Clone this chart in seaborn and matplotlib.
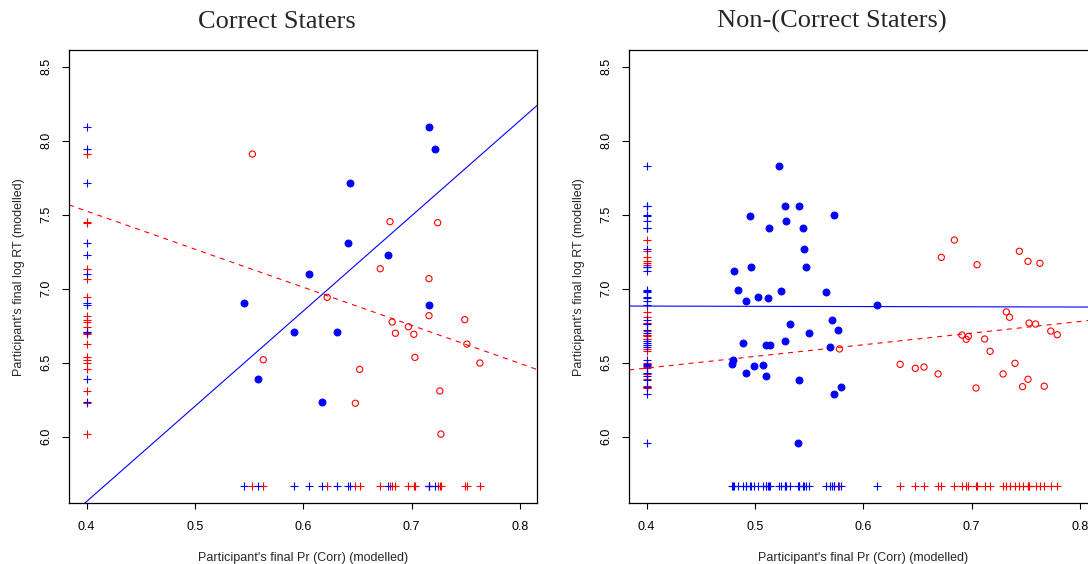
import matplotlib
matplotlib.use("Agg")
import matplotlib.pyplot as plt
import numpy as np
import pandas as pd
import seaborn as sns

# ── DATA ────────────────────────────────────────────────────────────────────
# Left panel: Correct Staters
cs_blue_x = [0.716, 0.722, 0.643, 0.641, 0.678, 0.605, 0.545, 0.716, 0.591, 0.631, 0.558, 0.617]
cs_blue_y = [8.093, 7.942, 7.714, 7.307, 7.230, 7.099, 6.901, 6.888, 6.709, 6.709, 6.392, 6.234]
cs_red_x = [0.553, 0.680, 0.724, 0.671, 0.716, 0.622, 0.716, 0.749, 0.682, 0.697,
            0.685, 0.702, 0.751, 0.763, 0.703, 0.563, 0.652, 0.726, 0.648, 0.727]
cs_red_y = [7.910, 7.453, 7.446, 7.135, 7.068, 6.942, 6.818, 6.791, 6.775, 6.743,
            6.699, 6.692, 6.626, 6.498, 6.536, 6.520, 6.455, 6.309, 6.226, 6.018]
cs_blue_line = (2.988, 6.436)    # intercept, slope
cs_red_line = (8.554, -2.574)

# Right panel: Non-(Correct Staters)
nc_blue_x = [0.522, 0.528, 0.541, 0.495, 0.573, 0.529, 0.513, 0.544, 0.545, 0.481,
             0.496, 0.547, 0.484, 0.524, 0.566, 0.492, 0.503, 0.512, 0.613, 0.571,
             0.532, 0.577, 0.550, 0.489, 0.528, 0.510, 0.514, 0.569, 0.480, 0.479,
             0.507, 0.499, 0.492, 0.510, 0.541, 0.579, 0.573, 0.540]
nc_blue_y = [7.827, 7.561, 7.561, 7.491, 7.498, 7.459, 7.408, 7.412, 7.270, 7.122,
             7.147, 7.145, 6.993, 6.986, 6.976, 6.919, 6.944, 6.939, 6.888, 6.791,
             6.759, 6.719, 6.703, 6.631, 6.647, 6.620, 6.622, 6.606, 6.516, 6.493,
             6.486, 6.478, 6.432, 6.412, 6.383, 6.336, 6.286, 5.959]
nc_red_x = [0.684, 0.744, 0.672, 0.752, 0.763, 0.705, 0.732, 0.735, 0.753, 0.759,
            0.773, 0.779, 0.691, 0.697, 0.695, 0.712, 0.578, 0.717, 0.634, 0.648,
            0.656, 0.669, 0.740, 0.729, 0.704, 0.752, 0.747, 0.767]
nc_red_y = [7.329, 7.253, 7.212, 7.185, 7.172, 7.162, 6.843, 6.807, 6.768, 6.761,
            6.714, 6.689, 6.687, 6.678, 6.658, 6.660, 6.593, 6.577, 6.489, 6.462,
            6.471, 6.424, 6.496, 6.424, 6.329, 6.388, 6.338, 6.341]
nc_blue_line = (6.889, -0.016)
nc_red_line = (6.149, 0.787)

RUG_X = 0.4      # marginal "+" marks on the left
RUG_Y = 5.667    # marginal "+" marks at the bottom

x_ticks = [0.4, 0.5, 0.6, 0.7, 0.8]
y_ticks = [6.0, 6.5, 7.0, 7.5, 8.0, 8.5]
titles = ["Correct Staters", "Non-(Correct Staters)"]
x_label = "Participant's final Pr (Corr) (modelled)"
y_label = "Participant's final log RT (modelled)"

# ── STYLE ───────────────────────────────────────────────────────────────────
sns.set_style("ticks")
plt.rcParams["font.family"] = ["Liberation Sans", "DejaVu Sans"]
BLUE = "#0000FF"
RED = "#FF0000"

fig = plt.figure(figsize=(10.88, 5.64), dpi=100)
W, H = 1088, 564
ax_l = fig.add_axes([69 / W, (H - 503.3) / H, 468 / W, 453.3 / H])
ax_r = fig.add_axes([629 / W, (H - 503.3) / H, 468 / W, 453.3 / H])

panels = [
    (ax_l, cs_blue_x, cs_blue_y, cs_red_x, cs_red_y, cs_blue_line, cs_red_line),
    (ax_r, nc_blue_x, nc_blue_y, nc_red_x, nc_red_y, nc_blue_line, nc_red_line),
]

for ax, bx, by, rx, ry, bline, rline in panels:
    df_b = pd.DataFrame({"x": bx, "y": by})
    df_r = pd.DataFrame({"x": rx, "y": ry})

    # rug marks
    for d, col in [(df_r, RED), (df_b, BLUE)]:
        ax.scatter(np.full(len(d), RUG_X), d["y"], marker="+", s=34,
                   color=col, linewidths=0.8, zorder=2)
        ax.scatter(d["x"], np.full(len(d), RUG_Y), marker="+", s=34,
                   color=col, linewidths=0.8, zorder=2)

    sns.scatterplot(data=df_b, x="x", y="y", ax=ax, color=BLUE, s=26,
                    edgecolor=BLUE, linewidth=0.6, zorder=3)
    sns.scatterplot(data=df_r, x="x", y="y", ax=ax, facecolor="none", s=20,
                    edgecolor=RED, linewidth=0.8, zorder=3)

    ax.axline((0, bline[0]), slope=bline[1], color=BLUE, lw=0.8, zorder=1)
    ax.axline((0, rline[0]), slope=rline[1], color=RED, lw=0.8,
              dashes=(4.5, 4.5), zorder=1)

    ax.set_xlim(0.3837, 0.8157)
    ax.set_ylim(5.55, 8.613)
    ax.set_xticks(x_ticks)
    ax.set_xticklabels([f"{v:.1f}" for v in x_ticks])
    ax.set_yticks(y_ticks)
    ax.set_yticklabels([f"{v:.1f}" for v in y_ticks], rotation=90, va="center")
    ax.tick_params(axis="x", direction="out", length=4.5, width=0.8,
                   pad=8, labelsize=9, colors="black")
    ax.tick_params(axis="y", direction="out", length=5, width=0.8,
                   pad=7, labelsize=9, colors="black")
    for sp in ax.spines.values():
        sp.set_visible(True)
        sp.set_color("black")
        sp.set_linewidth(0.9)

    ax.set_xlabel(x_label, fontsize=9)
    ax.set_ylabel(y_label, fontsize=9)
    ax.xaxis.set_label_coords(0.5, -0.107)
    ax.yaxis.set_label_coords(-0.093, 0.5)

fig.text(277 / W, 1 - 27.5 / H, titles[0], ha="center", va="baseline",
         fontsize=19, family=["Liberation Serif", "DejaVu Serif"])
fig.text(832 / W, 1 - 27.5 / H, titles[1], ha="center", va="baseline",
         fontsize=19, family=["Liberation Serif", "DejaVu Serif"])

fig.savefig("out.png", dpi=100, facecolor="white")
